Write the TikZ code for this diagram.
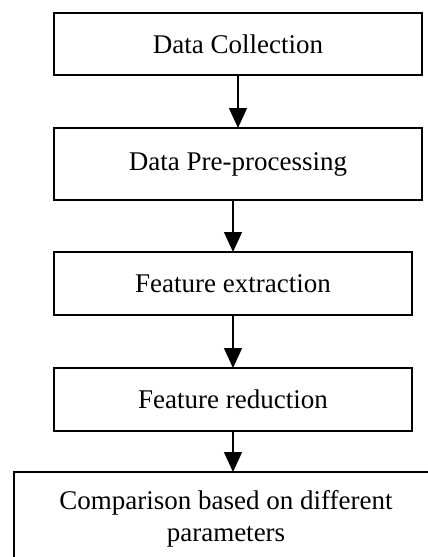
\documentclass[tikz,border=0pt]{standalone}
\usepackage{fontspec}
\setmainfont{Liberation Serif}
\usetikzlibrary{arrows.meta}

\tikzset{
  stagebox/.style={draw,line width=1.4pt,inner sep=0pt,outer sep=0pt,
    align=center,font=\fontsize{27}{32}\selectfont},
  flow/.style={line width=1.4pt,-{Triangle[width=18pt,length=20pt]}}
}

\begin{document}
\begin{tikzpicture}[x=1pt,y=-1pt]
    		\useasboundingbox (0,0) rectangle (428,557);
    		\clip (0,0) rectangle (428,557);

    		\node[stagebox,minimum width=368pt,minimum height=62pt] (collect) at (238,44) {Data Collection};
    		\node[stagebox,minimum width=368pt,minimum height=72pt] (prep) at (238,164) {Data Pre-processing};
    		\node[stagebox,minimum width=358pt,minimum height=63pt] (extract) at (233,283.5) {Feature extraction};
    		\node[stagebox,minimum width=358pt,minimum height=63pt] (reduce) at (233,399.5) {Feature reduction};
    		\node[stagebox,minimum width=424pt,minimum height=94pt] (compare) at (226,519) {Comparison based on different\\parameters};

    		\draw[flow] (collect) -- (prep);
    		\draw[flow] (prep.south -| extract.north) -- (extract.north);
    		\draw[flow] (extract) -- (reduce);
    		\draw[flow] (reduce.south) -- (reduce.south |- compare.north);
			\end{tikzpicture}
\end{document}
